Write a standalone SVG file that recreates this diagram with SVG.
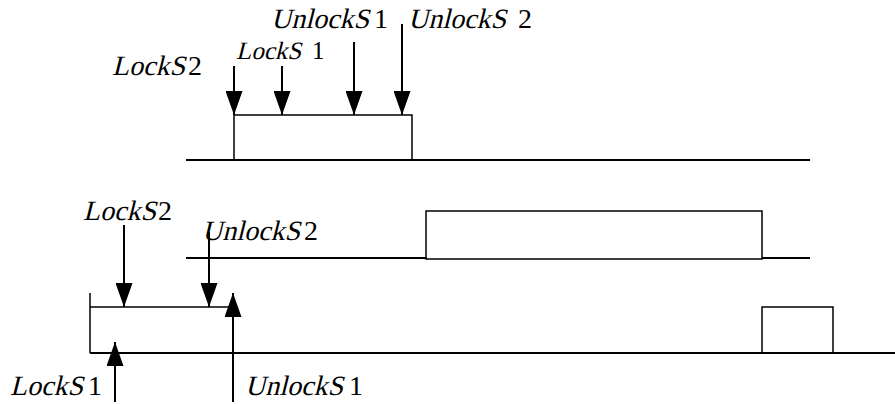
<svg xmlns="http://www.w3.org/2000/svg" width="895" height="404" viewBox="0 0 895 404">
<style>
.ln{stroke:#000;stroke-width:2;fill:none}
.bx{stroke:#000;stroke-width:1.5;fill:none}
.ar{stroke:#000;stroke-width:2;fill:none}
.tx{font-family:"Liberation Serif","DejaVu Serif",serif;font-size:28px;fill:#000}
.it{transform:skewX(-14deg)}
</style>
<defs>
<marker id="ah2" markerUnits="userSpaceOnUse" markerWidth="24" markerHeight="17" viewBox="0 0 24 17" refX="24" refY="8.5" orient="auto">
<path d="M0,0 L24,8.5 L0,17 Z" fill="#000"/>
</marker>
</defs>
<g id="timeline-top">
<line class="ln" x1="186" y1="160" x2="810" y2="160"/>
<polyline class="bx" points="234,160 234,115 412,115 412,160"/>
</g>
<g id="timeline-middle">
<line class="ln" x1="186" y1="258" x2="427" y2="258"/>
<rect class="bx" x="426" y="211" width="336" height="48"/>
<line class="ln" x1="762" y1="258" x2="810" y2="258"/>
</g>
<g id="timeline-bottom">
<line class="ln" x1="90" y1="353" x2="895" y2="353"/>
<polyline class="bx" points="90,293 90,353"/>
<line class="bx" x1="90" y1="307" x2="232" y2="307"/>
<polyline class="bx" points="762,353 762,307 833,307 833,353"/>
</g>
<g id="connectors">
<line class="ar" x1="234" y1="66" x2="234" y2="115" marker-end="url(#ah2)"/>
<line class="ar" x1="282" y1="66" x2="282" y2="115" marker-end="url(#ah2)"/>
<line class="ar" x1="354" y1="42" x2="354" y2="115" marker-end="url(#ah2)"/>
<line class="ar" x1="402" y1="24" x2="402" y2="115" marker-end="url(#ah2)"/>
<line class="ar" x1="124" y1="225" x2="124" y2="307" marker-end="url(#ah2)"/>
<line class="ar" x1="209" y1="232" x2="209" y2="307" marker-end="url(#ah2)"/>
<line class="ar" x1="233" y1="402" x2="233" y2="293" marker-end="url(#ah2)"/>
<line class="ar" x1="115" y1="402" x2="115" y2="342" marker-end="url(#ah2)"/>
</g>
<g id="labels" font-family="Liberation Serif, DejaVu Serif, serif">
<g transform="translate(112,75)"><text class="tx it" font-family="Liberation Serif">LockS</text></g><text class="tx" x="188" y="75">2</text>
<g transform="translate(236,59)"><text class="tx it" style="font-size:25px">LockS</text></g><text class="tx" x="312" y="59" style="font-size:25px">1</text>
<g transform="translate(271,28)"><text class="tx it">UnlockS</text></g><text class="tx" x="374" y="28">1</text>
<g transform="translate(408,28)"><text class="tx it">UnlockS</text></g><text class="tx" x="518" y="28">2</text>
<g transform="translate(83,220)"><text class="tx it">LockS</text></g><text class="tx" x="158" y="220">2</text>
<g transform="translate(202,240)"><text class="tx it">UnlockS</text></g><text class="tx" x="304" y="240">2</text>
<g transform="translate(10,395)"><text class="tx it">LockS</text></g><text class="tx" x="88" y="395">1</text>
<g transform="translate(245,395)"><text class="tx it">UnlockS</text></g><text class="tx" x="349" y="395">1</text>
</g>
</svg>
